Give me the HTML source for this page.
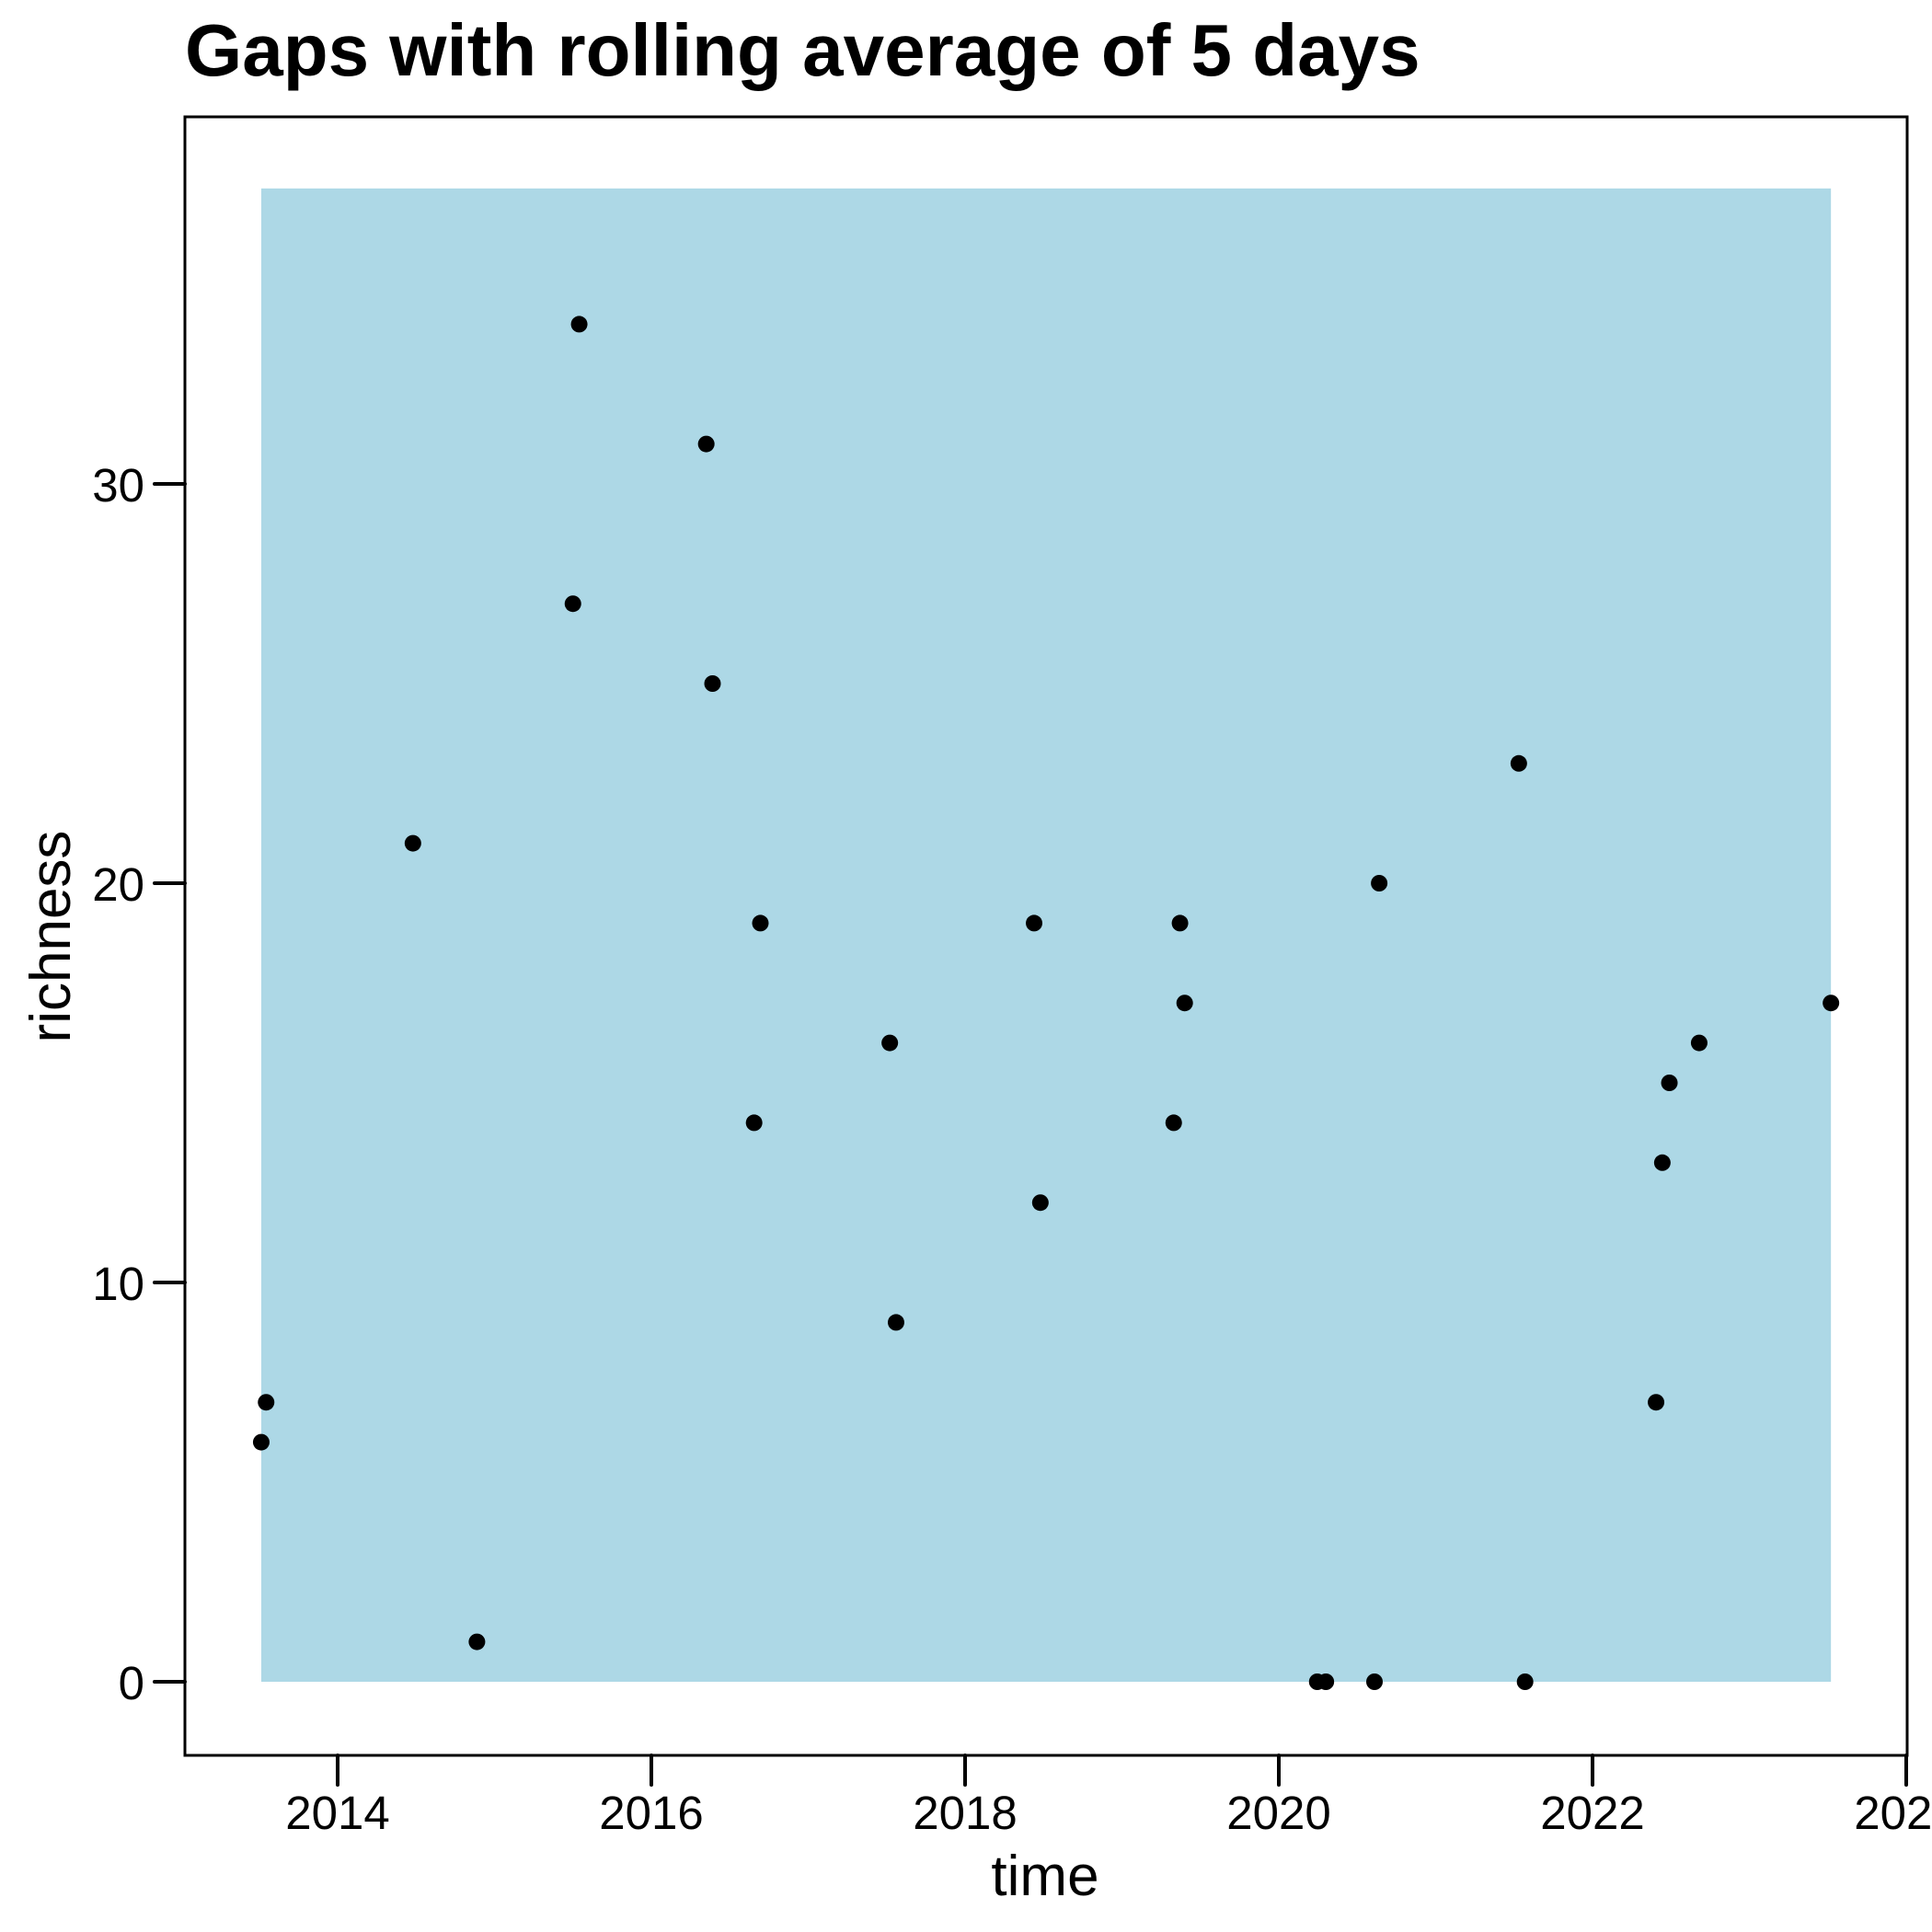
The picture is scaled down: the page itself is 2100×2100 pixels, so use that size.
<!DOCTYPE html>
<html><head><meta charset="utf-8"><style>html,body{margin:0;padding:0;background:#fff}svg{display:block}</style></head>
<body>
<svg id="chart" width="2100" height="2100" viewBox="0 0 2100 2100" xmlns="http://www.w3.org/2000/svg" font-family="'Liberation Sans', sans-serif">
<text x="201" y="82" font-size="80" font-weight="bold">Gaps with rolling average of 5 days</text>
<g id="band"></g>
<rect x="201" y="127" width="1872" height="1781" fill="none" stroke="#000" stroke-width="3"/>
<g id="axes"></g>
<g id="points"></g>
<text x="1136" y="2060" font-size="62" text-anchor="middle">time</text>
<text transform="translate(76,1018) rotate(-90)" font-size="62" text-anchor="middle">richness</text>
</svg>
<script>
const times=[2013.513,2013.544,2014.48,2014.888,2015.50,2015.54,2016.35,2016.39,2016.655,2016.695,2017.52,2017.56,2018.44,2018.48,2019.33,2019.37,2019.40,2020.245,2020.30,2020.61,2020.64,2021.53,2021.57,2022.405,2022.445,2022.49,2022.68,2023.52];
const richness=[6,7,21,1,27,34,31,25,14,19,16,9,19,12,14,19,17,0,0,0,20,23,0,7,13,15,16,17];
const xTicks=[2014,2016,2018,2020,2022,2024];
const yTicks=[0,10,20,30];
const bandRange=[2013.513,2023.52,0,37.4];
const NS="http://www.w3.org/2000/svg";
function X(t){return 367+(t-2014)*170.5;}
function Y(v){return 1828-v*43.4;}
function mk(tag,attrs,parent){const e=document.createElementNS(NS,tag);for(const k in attrs)e.setAttribute(k,attrs[k]);parent.appendChild(e);return e;}
const band=document.getElementById('band'),axes=document.getElementById('axes'),pts=document.getElementById('points');
const r=mk('rect',{x:X(bandRange[0]),y:Y(bandRange[3]),width:X(bandRange[1])-X(bandRange[0]),height:Y(bandRange[2])-Y(bandRange[3]),fill:'#add8e6'},band);


xTicks.forEach(t=>{
  const l=mk('line',{x1:X(t),x2:X(t),y1:1908,y2:1940,stroke:'#000','stroke-width':4,'stroke-linecap':'round'},axes);
  
  
  const tx=mk('text',{x:X(t),y:1988,'font-size':51,'text-anchor':'middle'},axes);
  tx.textContent=t;
  
  
});
yTicks.forEach(v=>{
  const l=mk('line',{x1:168,x2:201,y1:Y(v),y2:Y(v),stroke:'#000','stroke-width':4,'stroke-linecap':'round'},axes);
  
  
  const tx=mk('text',{x:157,y:Y(v)+19,'font-size':51,'text-anchor':'end'},axes);
  tx.textContent=v;
  
  
});
times.forEach((t,i)=>{
  const c=mk('circle',{cx:X(t),cy:Y(richness[i]),r:9,fill:'#000'},pts);
  
  
});
</script>
</body></html>
